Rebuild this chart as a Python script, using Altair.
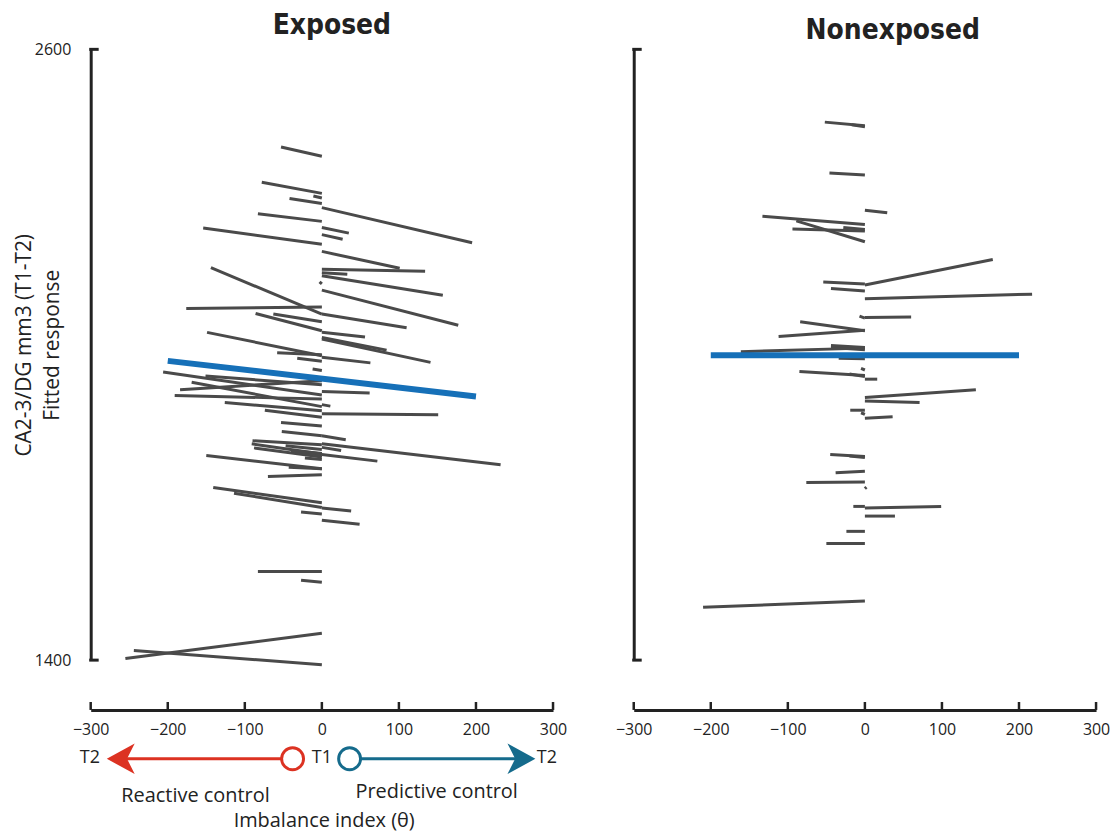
import altair as alt
import pandas as pd

W, H = 464, 613

# ---- Exposed: imbalance index at T2 (theta), fitted response at T2 and at T1 (theta = 0)
exp_theta = [-53, -78, -11, -42, 195, -83, 35, 27, -154, 101, 134, 33, 157, -3, -144, 177,
             -176, -63, -86, 110, 56, 84, 141, -149, -58, -32, 63, -12, -206, -151, -184, -169,
             -191, 62, 11, -126, -74, 151, -53, -52, 31, -90, -91, -88, -47, -34, 232, 25,
             72, -150, -43, -70, -141, -114, 38, -27, 49, -83, -27, -255, -244, -40, -22]
exp_t2 = [2408, 2339, 2312, 2307, 2220, 2277, 2239, 2227, 2249, 2170, 2164, 2158, 2117, 2143, 2171, 2058,
          2091, 2080, 2081, 2053, 2035, 2009, 1985, 2044, 2004, 1993, 1984, 1972, 1966, 1958, 1931, 1946,
          1920, 1925, 1899, 1906, 1891, 1882, 1867, 1849, 1833, 1831, 1825, 1817, 1821, 1808, 1784, 1812,
          1791, 1802, 1779, 1761, 1739, 1728, 1693, 1691, 1667, 1574, 1557, 1403, 1419, 1812, 1797]
exp_t1 = [2390, 2317, 2308, 2297, 2289, 2262, 2250, 2236, 2217, 2203, 2168, 2161, 2155, 2139, 2080, 2127,
          2094, 2065, 2047, 2080, 2044, 2034, 2031, 1998, 2000, 1987, 1995, 1969, 1921, 1941, 1949, 1898,
          1913, 1928, 1902, 1890, 1877, 1884, 1860, 1841, 1841, 1823, 1805, 1799, 1814, 1802, 1825, 1818,
          1804, 1776, 1776, 1764, 1709, 1700, 1699, 1687, 1675, 1574, 1553, 1453, 1391, 1806, 1794]
exp_fit_theta = [-200, 200]
exp_fit_y = [1988, 1918]

# ---- Nonexposed
non_theta = [-52, -17, -46, 29, -133, -89, -94, -28, 166, -54, -44, 217, 60, -7, -84, -112,
             -44, -44, -161, -34, -5, -85, -20, 16, 144, 71, -19, -5, 36, -45, -20, -38,
             -76, 2, -15, 99, 39, -24, -50, -210]
non_t2 = [2457, 2452, 2357, 2279, 2272, 2263, 2247, 2250, 2187, 2143, 2130, 2119, 2074, 2076, 2065, 2036,
          2018, 2014, 2006, 1993, 1973, 1967, 1962, 1952, 1931, 1906, 1891, 1886, 1878, 1804, 1801, 1768,
          1749, 1740, 1702, 1702, 1683, 1653, 1629, 1504]
non_t1 = [2450, 2448, 2353, 2284, 2256, 2222, 2243, 2246, 2137, 2139, 2125, 2110, 2073, 2072, 2047, 2048,
          2014, 2010, 2013, 1992, 1970, 1959, 1957, 1952, 1916, 1909, 1891, 1883, 1875, 1800, 1798, 1771,
          1750, 1737, 1702, 1699, 1683, 1653, 1629, 1516]
non_fit_theta = [-200, 200]
non_fit_y = [1999, 1999]

x_ticks = [-300, -200, -100, 0, 100, 200, 300]
y_ticks = [1400, 2600]
y_title = ["CA2-3/DG mm3 (T1-T2)", "Fitted response"]

GRAY = "#4a4a4a"
BLUE = "#1670b8"
DARK = "#222222"
RED = "#dc3222"
TEAL = "#156b8c"
FONT = "Open Sans"
TFONT = "Liberation Sans Narrow, DejaVu Sans Condensed, Roboto"


def seg_df(theta, t2, t1):
    return pd.DataFrame({"theta": theta, "t2": t2, "t1": t1, "t0": [0] * len(theta)})


xs = alt.Scale(domain=[-300, 300], nice=False, zero=False)
ys = alt.Scale(domain=[1400, 2600], nice=False, zero=False)


def panel(df, fit, title, dx, toff, left):
    xaxis = alt.Axis(values=x_ticks, ticks=False, grid=False, offset=50, domainWidth=3,
                     domainColor=DARK, labelFont=FONT, labelFontSize=16, labelColor=DARK,
                     labelPadding=12, labelFlush=False, title=None, format="d")
    if left:
        yaxis = alt.Axis(values=y_ticks, ticks=False, grid=False, domainWidth=3, domainColor=DARK,
                         labelFont=FONT, labelFontSize=16, labelColor=DARK, labelPadding=20,
                         labelFlush=False, format="d",
                         title=y_title, titleFont=FONT, titleFontSize=21, titleFontWeight="normal",
                         titleColor=DARK, titleX=-66, titleY=H / 2 - 10, titleBaseline="middle",
                         titleLineHeight=28, titleAngle=270)
    else:
        yaxis = alt.Axis(values=y_ticks, ticks=False, grid=False, domainWidth=3, domainColor=DARK,
                         labels=False, title=None)

    def X(field):
        return alt.X(field, scale=xs, axis=xaxis)

    def XD(v):
        return alt.XDatum(v, scale=xs, axis=xaxis)

    def Y(field):
        return alt.Y(field, scale=ys, axis=yaxis)

    segs = alt.Chart(df).mark_rule(color=GRAY, strokeWidth=3).encode(
        x=X("theta:Q"), x2="t0:Q", y=Y("t2:Q"), y2="t1:Q",
    )
    fitl = alt.Chart(fit).mark_line(color=BLUE, strokeWidth=6, strokeCap="butt").encode(
        x=X("theta:Q"), y=Y("t2:Q"),
    )
    serif = alt.Chart(pd.DataFrame({"t2": y_ticks})).mark_rule(color=DARK, strokeWidth=3).encode(
        y=Y("t2:Q"), x=alt.value(-1.5), x2=alt.value(8),
    )
    xtick = alt.Chart(pd.DataFrame({"theta": x_ticks})).mark_rule(color=DARK, strokeWidth=2.5).encode(
        x=X("theta:Q"), y=alt.value(H + 42), y2=alt.value(H + 50),
    )
    layers = [segs, fitl, serif, xtick]
    if left:
        one = alt.Data(values=[{}])
        ay = H + 99

        def txt(s, v, y, size):
            return alt.Chart(one).mark_text(text=s, font=FONT, fontSize=size, color=DARK,
                                            baseline="middle").encode(x=XD(v), y=alt.value(y))

        layers += [
            alt.Chart(one).mark_rule(color=RED, strokeWidth=3).encode(
                x=XD(-255), x2=alt.datum(-52), y=alt.value(ay)),
            alt.Chart(one).mark_rule(color=TEAL, strokeWidth=3).encode(
                x=XD(50), x2=alt.datum(255), y=alt.value(ay)),
            alt.Chart(one).mark_point(shape="M-1,0L1,-1.1L0.45,0L1,1.1Z", size=784, filled=True,
                                      color=RED, opacity=1, strokeWidth=0).encode(
                x=XD(-261), y=alt.value(ay)),
            alt.Chart(one).mark_point(shape="M1,0L-1,-1.1L-0.45,0L-1,1.1Z", size=784, filled=True,
                                      color=TEAL, opacity=1, strokeWidth=0).encode(
                x=XD(259), y=alt.value(ay)),
            alt.Chart(one).mark_point(shape="circle", size=484, filled=True, fill="white",
                                      stroke=RED, strokeWidth=3, opacity=1).encode(
                x=XD(-38), y=alt.value(ay)),
            alt.Chart(one).mark_point(shape="circle", size=484, filled=True, fill="white",
                                      stroke=TEAL, strokeWidth=3, opacity=1).encode(
                x=XD(36), y=alt.value(ay)),
            txt("T2", -301, ay - 1, 18),
            txt("T1", 0, ay - 1, 18),
            txt("T2", 292, ay - 1, 18),
            txt("Reactive control", -164, H + 136, 20),
            txt("Predictive control", 149, H + 132, 20),
            txt("Imbalance index (θ)", 3, H + 161, 20),
        ]
    return alt.layer(*layers).properties(
        width=W, height=H,
        title=alt.TitleParams(title, font=TFONT, fontSize=28, fontWeight="bold", color=DARK,
                              dx=dx, offset=toff, anchor="middle", frame="group"),
    )


left = panel(seg_df(exp_theta, exp_t2, exp_t1),
             pd.DataFrame({"theta": exp_fit_theta, "t2": exp_fit_y}), "Exposed", 10, 1, True)
right = panel(seg_df(non_theta, non_t2, non_t1),
              pd.DataFrame({"theta": non_fit_theta, "t2": non_fit_y}), "Nonexposed", 28, 3, False)

chart = alt.hconcat(left, right, spacing=48).properties(
    padding={"left": 6, "top": 3, "right": 0, "bottom": 0}
).configure_view(stroke=None)

chart.save("out.html", embed_options={"renderer": "svg", "actions": False})
